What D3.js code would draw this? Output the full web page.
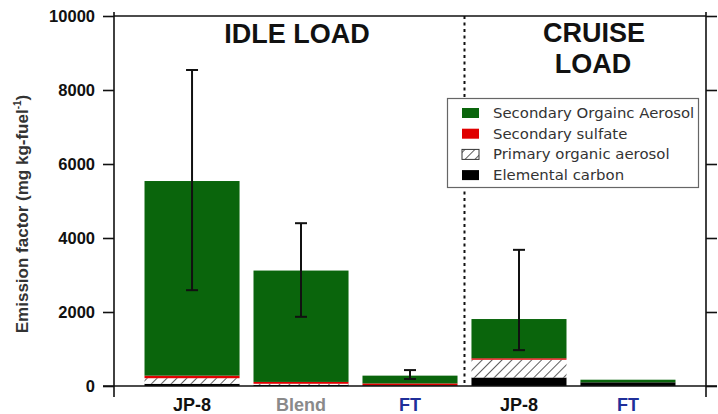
<!DOCTYPE html>
<html>
<head>
<meta charset="utf-8">
<script src="https://cdn.jsdelivr.net/npm/d3@7"></script>
<style>
  html, body { margin: 0; padding: 0; background: #fff; }
  svg { display: block; }
</style>
</head>
<body>
<svg id="chart" width="718" height="414"></svg>
<script>
// Fuel / engine-load cases along the x axis
const categories = ["JP-8", "Blend", "FT", "JP-8", "FT"];
const loads = ["idle", "idle", "idle", "cruise", "cruise"];
const labelColors = ["#111111", "#8a8a8a", "#1f2f9a", "#111111", "#1f2f9a"];

// Stacked components, bottom to top (mg per kg fuel)
const elementalCarbon = [60, 30, 20, 230, 100];
const primaryOrganic = [150, 30, 0, 480, 0];
const secondarySulfate = [70, 50, 50, 40, 0];
const secondaryOrganic = [5260, 3010, 210, 1060, 70];

// Error bar range on the total
const errLow = [2590, 1870, 190, 970, null];
const errHigh = [8540, 4400, 430, 3680, null];

const yTicks = [0, 2000, 4000, 6000, 8000, 10000];
const seriesNames = ["Secondary Orgainc Aerosol", "Secondary sulfate", "Primary organic aerosol", "Elemental carbon"];

const svg = d3.select("#chart");
const plotLeft = 114, plotRight = 706, plotTop = 16, plotBottom = 386;

const x = d3.scaleBand().domain(d3.range(categories.length)).range([plotLeft, plotRight])
  .paddingInner(0.128).paddingOuter(0.28);
const y = d3.scaleLinear().domain([0, 10000]).range([plotBottom, plotTop]);

// hatch pattern for primary organic aerosol
const defs = svg.append("defs");
const pat = defs.append("pattern").attr("id", "hatch").attr("patternUnits", "userSpaceOnUse")
  .attr("width", 7).attr("height", 7).attr("patternTransform", "rotate(45)");
pat.append("rect").attr("width", 7).attr("height", 7).attr("fill", "#fff");
pat.append("line").attr("x1", 0).attr("y1", 0).attr("x2", 0).attr("y2", 7)
  .attr("stroke", "#333").attr("stroke-width", 1.6);

const green = "#0a650c";
const red = "#e00000";
const layers = [
  { key: "ec", fill: "#000" },
  { key: "poa", fill: "url(#hatch)" },
  { key: "sulf", fill: red },
  { key: "soa", fill: green }
];

const rows = categories.map((c, i) => ({
  i, ec: elementalCarbon[i], poa: primaryOrganic[i], sulf: secondarySulfate[i], soa: secondaryOrganic[i]
}));
const stacked = d3.stack().keys(layers.map(l => l.key))(rows);

const barG = svg.append("g");
stacked.forEach((s, k) => {
  barG.selectAll(null).data(s).enter().append("rect")
    .attr("x", d => x(d.data.i))
    .attr("width", x.bandwidth())
    .attr("y", d => y(d[1]))
    .attr("height", d => Math.max(0, y(d[0]) - y(d[1])))
    .attr("fill", layers[k].fill);
});

// error bars
const eb = svg.append("g").attr("stroke", "#111").attr("stroke-width", 2);
categories.forEach((c, i) => {
  if (errLow[i] == null) return;
  const cx = x(i) + x.bandwidth() / 2;
  eb.append("line").attr("x1", cx).attr("x2", cx).attr("y1", y(errLow[i])).attr("y2", y(errHigh[i]));
  [errLow[i], errHigh[i]].forEach(v => {
    eb.append("line").attr("x1", cx - 6).attr("x2", cx + 6).attr("y1", y(v)).attr("y2", y(v));
  });
});

// axes
const axisStyle = g => {
  g.select(".domain").remove();
  g.selectAll(".tick line").attr("stroke", "#111").attr("stroke-width", 1.6);
};
svg.append("g").attr("transform", `translate(${plotLeft},0)`)
  .call(d3.axisLeft(y).tickValues(yTicks).tickSize(11).tickPadding(8).tickFormat(d3.format("d")))
  .call(axisStyle)
  .call(g => g.selectAll("text").attr("font-family", "Liberation Sans, Arial, sans-serif")
    .attr("font-weight", "bold").attr("font-size", 16.5).attr("fill", "#111"));
svg.append("g").attr("transform", `translate(${plotRight},0)`)
  .call(d3.axisRight(y).tickValues(yTicks).tickSize(11).tickFormat(""))
  .call(axisStyle);

const frame = svg.append("g").attr("stroke", "#111").attr("stroke-width", 1.6);
frame.append("line").attr("x1", plotLeft).attr("x2", plotLeft).attr("y1", plotTop - 4).attr("y2", plotBottom + 11);
frame.append("line").attr("x1", plotRight).attr("x2", plotRight).attr("y1", plotTop - 4).attr("y2", plotBottom + 11);
frame.append("line").attr("x1", plotLeft).attr("x2", plotRight).attr("y1", plotTop).attr("y2", plotTop);
frame.append("line").attr("x1", plotLeft - 11).attr("x2", plotRight + 11).attr("y1", plotBottom).attr("y2", plotBottom);

// idle / cruise divider
const divX = (x(2) + x.bandwidth() + x(3)) / 2;
svg.append("line").attr("x1", divX).attr("x2", divX).attr("y1", plotTop).attr("y2", plotBottom)
  .attr("stroke", "#111").attr("stroke-width", 2).attr("stroke-dasharray", "3,3.5");

// category labels
svg.append("g").attr("transform", `translate(0,${plotBottom})`)
  .call(d3.axisBottom(x).tickSize(0).tickPadding(0).tickFormat(i => categories[i]))
  .call(g => g.select(".domain").remove())
  .call(g => g.selectAll("text")
    .attr("dy", null).attr("y", 25)
    .attr("font-family", "Liberation Sans, Arial, sans-serif").attr("font-weight", "bold")
    .attr("font-size", 18).attr("fill", (d, j) => labelColors[j]));

// panel titles
const titleFont = "Liberation Sans, Arial, sans-serif";
svg.append("text").attr("x", 297).attr("y", 43).attr("text-anchor", "middle")
  .attr("font-family", titleFont).attr("font-weight", "bold").attr("font-size", 27).attr("fill", "#111")
  .text("IDLE LOAD");
const cruise = svg.append("text").attr("text-anchor", "middle")
  .attr("font-family", titleFont).attr("font-weight", "bold").attr("font-size", 27).attr("fill", "#111");
cruise.append("tspan").attr("x", 594).attr("y", 42).text("CRUISE");
cruise.append("tspan").attr("x", 593).attr("y", 73).text("LOAD");

// y axis title
const yl = svg.append("text").attr("transform", "translate(28,214) rotate(-90)")
  .attr("text-anchor", "middle").attr("font-family", "Liberation Sans, Arial, sans-serif")
  .attr("font-size", 17).attr("font-weight", "bold").attr("fill", "#333");
yl.append("tspan").text("Emission factor (mg kg-fuel");
yl.append("tspan").attr("font-size", 10).attr("dy", -7).text("-1");
yl.append("tspan").attr("dy", 7).text(")");

// legend
const lg = svg.append("g");
lg.append("rect").attr("x", 447.5).attr("y", 98.5).attr("width", 251).attr("height", 89)
  .attr("fill", "#fff").attr("stroke", "#666").attr("stroke-width", 1.2);
const legendFills = [green, red, "url(#hatch)", "#000"];
seriesNames.forEach((name, k) => {
  const cy = 113 + k * 20.7;
  lg.append("rect").attr("x", 462).attr("y", cy - 5).attr("width", 17).attr("height", 10)
    .attr("fill", legendFills[k]).attr("stroke", k === 2 ? "#333" : "none").attr("stroke-width", 1);
  lg.append("text").attr("x", 493).attr("y", cy + 5)
    .attr("font-family", "DejaVu Sans, sans-serif").attr("font-size", 14.9).attr("fill", "#333")
    .text(name);
});
</script>
</body>
</html>
